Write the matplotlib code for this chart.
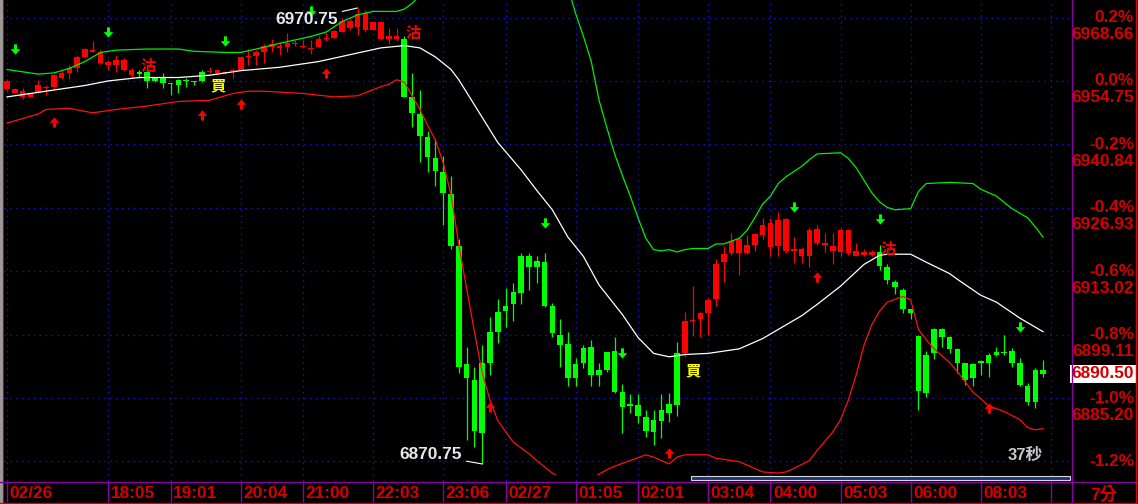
import numpy as np
import matplotlib
matplotlib.use("Agg")
import matplotlib.pyplot as plt
from matplotlib.path import Path
from matplotlib.patches import Rectangle
import matplotlib.transforms as mtransforms

# 7分K OHLC
opens = [6953.00, 6952.00, 6951.25, 6951.25, 6952.00, 6953.25, 6953.50, 6955.50, 6956.50, 6957.50,
         6960.00, 6961.00, 6958.75, 6958.25, 6958.25, 6957.25, 6956.00, 6956.75, 6956.75, 6955.50,
         6955.50, 6954.25, 6955.00, 6955.00, 6954.75, 6956.75, 6956.75, 6956.50, 6956.50, 6957.00,
         6957.25, 6960.00, 6960.25, 6961.00, 6962.25, 6962.00, 6962.25, 6962.75, 6962.25, 6961.75,
         6962.25, 6964.00, 6964.25, 6965.50, 6966.25, 6966.50, 6966.00, 6966.00, 6964.00, 6964.00,
         6964.00, 6964.00, 6951.25, 6947.50, 6942.50, 6937.75, 6934.75, 6930.00, 6918.50, 6892.75,
         6889.25, 6893.00, 6899.75, 6904.00, 6905.50, 6908.50, 6916.25, 6916.25, 6915.25, 6915.00,
         6905.50, 6899.00, 6897.00, 6892.75, 6896.25, 6896.50, 6891.25, 6895.25, 6895.50, 6886.50,
         6884.00, 6883.75, 6881.00, 6880.50, 6882.50, 6884.00, 6895.00, 6895.00, 6902.00, 6902.50,
         6903.75, 6907.00, 6915.00, 6917.00, 6917.00, 6917.00, 6918.75, 6921.00, 6918.25, 6918.50,
         6917.50, 6917.50, 6916.25, 6916.25, 6919.25, 6918.75, 6917.50, 6917.25, 6917.00, 6916.25,
         6916.50, 6916.50, 6917.25, 6914.00, 6910.75, 6909.00, 6904.75, 6898.75, 6894.75, 6900.25,
         6900.25, 6898.50, 6896.00, 6893.00, 6892.75, 6893.00, 6894.75, 6895.25, 6895.00, 6895.50,
         6893.00, 6887.75, 6891.25, 6891.25]
highs = [6955.25, 6953.25, 6953.25, 6952.00, 6955.00, 6953.75, 6956.25, 6957.25, 6958.25, 6960.50,
         6962.00, 6963.50, 6961.50, 6959.25, 6960.50, 6959.75, 6957.50, 6957.25, 6957.25, 6955.50,
         6956.50, 6954.25, 6955.25, 6955.50, 6954.75, 6957.25, 6957.75, 6957.25, 6957.00, 6957.50,
         6960.25, 6961.75, 6961.50, 6962.75, 6964.00, 6963.25, 6965.25, 6963.75, 6963.75, 6963.75,
         6964.50, 6965.50, 6966.00, 6968.50, 6968.50, 6970.75, 6970.25, 6967.75, 6968.00, 6966.25,
         6966.25, 6964.50, 6956.50, 6952.75, 6943.75, 6942.00, 6938.25, 6934.00, 6920.00, 6896.50,
         6892.00, 6896.75, 6903.00, 6907.00, 6909.25, 6910.50, 6917.00, 6917.00, 6916.25, 6917.00,
         6906.00, 6902.50, 6899.75, 6894.00, 6896.75, 6898.00, 6893.00, 6895.25, 6898.50, 6888.25,
         6886.00, 6886.00, 6882.50, 6882.50, 6886.00, 6886.25, 6897.50, 6904.00, 6909.75, 6904.00,
         6907.25, 6915.75, 6918.50, 6921.50, 6920.25, 6921.00, 6921.50, 6924.75, 6924.75, 6926.00,
         6924.75, 6920.50, 6918.25, 6922.50, 6923.25, 6921.50, 6921.50, 6922.50, 6922.25, 6919.25,
         6918.00, 6917.75, 6918.75, 6914.50, 6911.00, 6909.25, 6904.75, 6899.00, 6895.50, 6900.50,
         6900.50, 6898.75, 6896.25, 6893.00, 6893.00, 6893.50, 6895.00, 6896.50, 6899.00, 6896.25,
         6894.00, 6888.50, 6891.75, 6893.50]
lows = [6952.50, 6952.00, 6950.75, 6951.25, 6952.00, 6951.75, 6952.75, 6955.25, 6955.25, 6956.75,
        6959.75, 6961.00, 6958.50, 6957.25, 6956.75, 6957.00, 6955.50, 6955.50, 6953.25, 6954.50,
        6953.25, 6951.75, 6952.00, 6953.50, 6953.75, 6954.50, 6956.50, 6956.00, 6956.25, 6955.50,
        6957.25, 6958.25, 6958.25, 6958.75, 6961.00, 6960.50, 6961.00, 6962.50, 6962.00, 6960.75,
        6962.25, 6963.50, 6964.25, 6965.50, 6966.00, 6964.75, 6965.50, 6966.00, 6963.75, 6962.75,
        6963.50, 6951.25, 6944.75, 6937.00, 6934.75, 6931.75, 6923.25, 6918.00, 6890.75, 6876.00,
        6874.50, 6870.75, 6890.25, 6897.25, 6900.75, 6902.00, 6905.75, 6909.00, 6910.50, 6905.25,
        6898.50, 6892.00, 6887.75, 6887.75, 6891.75, 6887.75, 6887.75, 6891.00, 6886.25, 6877.50,
        6882.00, 6879.75, 6876.75, 6875.00, 6876.50, 6880.00, 6881.25, 6894.25, 6898.75, 6898.50,
        6899.00, 6905.50, 6910.75, 6916.50, 6912.25, 6916.75, 6917.50, 6920.00, 6916.25, 6916.25,
        6917.00, 6914.75, 6914.75, 6914.00, 6918.75, 6917.25, 6914.50, 6916.25, 6916.50, 6916.25,
        6916.25, 6916.25, 6913.25, 6910.25, 6908.00, 6903.75, 6902.50, 6882.50, 6885.50, 6893.75,
        6896.50, 6895.00, 6890.75, 6888.00, 6887.75, 6890.25, 6889.75, 6894.50, 6894.75, 6892.00,
        6887.75, 6883.75, 6883.00, 6889.75]
closes = [6954.75, 6953.00, 6952.50, 6952.00, 6953.75, 6953.50, 6956.00, 6956.50, 6957.50, 6960.00,
          6961.75, 6961.50, 6961.00, 6959.00, 6959.25, 6959.25, 6957.25, 6956.25, 6954.75, 6954.75,
          6954.25, 6954.00, 6953.75, 6954.75, 6954.50, 6954.75, 6956.75, 6957.25, 6956.75, 6957.25,
          6960.00, 6960.25, 6961.00, 6962.50, 6962.75, 6962.50, 6963.00, 6962.75, 6962.50, 6962.00,
          6964.00, 6964.25, 6965.75, 6968.00, 6968.00, 6969.50, 6969.75, 6967.75, 6967.75, 6964.50,
          6964.50, 6951.25, 6947.75, 6942.75, 6938.00, 6935.00, 6930.25, 6918.50, 6892.00, 6889.50,
          6878.00, 6877.50, 6893.00, 6899.75, 6904.25, 6905.75, 6908.25, 6914.00, 6914.00, 6905.50,
          6899.50, 6896.75, 6889.50, 6889.50, 6893.00, 6890.25, 6890.25, 6891.25, 6886.50, 6883.25,
          6883.50, 6881.25, 6878.00, 6877.75, 6880.25, 6882.00, 6883.75, 6902.00, 6902.25, 6903.75,
          6906.75, 6914.50, 6916.75, 6919.75, 6920.00, 6918.75, 6921.25, 6923.25, 6923.50, 6924.25,
          6924.50, 6918.00, 6918.00, 6922.00, 6922.25, 6919.25, 6918.50, 6922.00, 6922.00, 6917.50,
          6917.25, 6917.25, 6914.25, 6911.00, 6909.50, 6904.75, 6903.75, 6886.75, 6886.25, 6895.00,
          6898.50, 6896.00, 6893.00, 6889.25, 6889.50, 6893.00, 6893.00, 6894.75, 6895.00, 6893.00,
          6888.00, 6884.25, 6884.25, 6890.50]

# 通道線 (bar index, price)
upper_bars = [0, 2, 4, 6, 8, 10, 12, 14, 18, 22, 24, 28, 30, 32, 35, 39, 41, 43, 45, 47, 50, 51, 52, 53,
              54, 57, 62, 67, 70, 72, 73, 74, 75, 76, 77, 78, 79, 80, 81, 82, 83, 84, 85, 86, 87, 88,
              90, 91, 92, 94, 95, 96, 97, 98, 99, 100, 102, 103, 104, 107, 108, 109, 110, 111, 112,
              113, 114, 116, 117, 118, 121, 124, 125, 127, 129, 131, 132, 133]
upper_vals = [6957.25, 6956.75, 6956.25, 6956.50, 6957.50, 6959.00, 6961.00, 6961.50, 6961.75, 6961.75,
              6961.25, 6961.00, 6961.00, 6961.75, 6963.00, 6964.50, 6965.50, 6967.75, 6969.25, 6970.00,
              6970.00, 6970.50, 6971.75, 6973.50, 6978.00, 6985.75, 6993.25, 6991.25, 6982.25, 6975.25,
              6969.50, 6964.50, 6959.00, 6950.50, 6944.50, 6938.75, 6934.00, 6929.50, 6924.75, 6920.25,
              6917.75, 6917.50, 6917.75, 6917.25, 6917.75, 6918.00, 6918.00, 6919.00, 6919.00, 6920.25,
              6922.00, 6924.75, 6927.75, 6929.50, 6932.25, 6933.75, 6936.00, 6937.50, 6938.75, 6939.00,
              6937.75, 6935.75, 6933.00, 6930.25, 6928.25, 6927.00, 6926.50, 6926.75, 6930.50, 6932.25,
              6932.50, 6932.25, 6931.00, 6929.50, 6926.75, 6924.75, 6922.75, 6920.50]

mid_bars = [0, 5, 10, 13, 17, 22, 26, 30, 35, 40, 44, 48, 51, 53, 55, 57, 58, 61, 63, 66, 68, 70, 72,
            74, 76, 79, 81, 83, 85, 87, 90, 94, 97, 99, 102, 104, 107, 110, 112, 113, 116, 118, 121,
            122, 125, 127, 130, 133]
mid_vals = [6951.25, 6952.50, 6953.75, 6954.75, 6955.50, 6955.50, 6956.00, 6957.00, 6957.75, 6959.00,
            6960.50, 6962.00, 6962.50, 6962.00, 6960.00, 6957.25, 6955.00, 6946.75, 6941.25, 6935.25,
            6930.75, 6926.50, 6920.50, 6916.25, 6910.00, 6903.50, 6898.50, 6895.00, 6894.25, 6894.75,
            6895.00, 6896.00, 6898.25, 6900.25, 6903.25, 6905.75, 6909.75, 6914.50, 6916.50, 6916.75,
            6916.75, 6915.00, 6912.50, 6911.25, 6907.75, 6906.25, 6902.75, 6899.75]

lower_bars = [0, 2, 4, 5, 8, 11, 14, 18, 22, 26, 29, 31, 33, 38, 42, 45, 48, 49, 50, 51, 52, 53, 54,
              55, 56, 57, 58, 59, 60, 61, 62, 63, 65, 67, 68, 70, 71, 73, 75, 77, 78, 80, 82, 83, 85,
              86, 87, 90, 91, 92, 94, 96, 97, 99, 100, 101, 103, 104, 106, 107, 108, 109, 110, 111,
              112, 113, 115, 116, 117, 118, 119, 120, 121, 122, 123, 124, 125, 126, 128, 130, 131,
              132, 133]
lower_vals = [6945.50, 6946.50, 6947.50, 6948.50, 6948.75, 6947.75, 6948.50, 6949.25, 6950.25, 6950.50,
              6952.00, 6952.50, 6952.50, 6952.00, 6951.25, 6951.50, 6953.50, 6954.00, 6955.00, 6954.50,
              6951.50, 6948.50, 6945.00, 6941.75, 6936.75, 6929.75, 6918.75, 6909.25, 6899.75, 6890.75,
              6884.75, 6880.25, 6875.50, 6873.00, 6871.50, 6868.75, 6867.75, 6866.50, 6867.50, 6869.50,
              6870.25, 6871.50, 6872.75, 6872.25, 6870.75, 6872.25, 6872.75, 6872.75, 6872.00, 6871.75,
              6871.25, 6869.75, 6869.00, 6868.75, 6869.00, 6869.75, 6871.50, 6873.75, 6877.75, 6880.50,
              6884.75, 6890.25, 6896.75, 6901.25, 6904.25, 6906.25, 6907.50, 6906.75, 6900.25, 6898.00,
              6896.00, 6894.50, 6893.00, 6891.00, 6888.75, 6886.50, 6885.00, 6883.50, 6882.25, 6880.50,
              6878.75, 6878.25, 6878.50]

# 訊號
sell_arrow_bars = [1, 13, 28, 39, 69, 79, 101, 112, 130]
sell_arrow_vals = [6961.75, 6965.50, 6963.50, 6970.00, 6923.50, 6895.00, 6927.00, 6924.50, 6900.75]
buy_arrow_bars = [6, 25, 30, 41, 62, 85, 104, 126]
buy_arrow_vals = [6945.75, 6947.25, 6949.75, 6956.50, 6883.25, 6873.25, 6911.75, 6883.00]
sell_bars = [17, 51, 112]
sell_text_vals = [6958.00, 6965.25, 6918.00]
buy_bars = [26, 87]
buy_text_vals = [6953.75, 6891.25]

prev_close = 6954.75
pct_levels = [0.2, 0.0, -0.2, -0.4, -0.6, -0.8, -1.0, -1.2]
price_labels = ["6968.66", "6954.75", "6940.84", "6926.93", "6913.02", "6899.11", "6885.20", ""]

time_ticks = [0, 13, 21, 30, 38, 47, 56, 64, 73, 81, 90, 98, 107, 116, 125, 134]
time_labels = ["02/26", "18:05", "19:01", "20:04", "21:00", "22:03", "23:06", "02/27",
               "01:05", "02:01", "03:04", "04:00", "05:03", "06:00", "08:03", ""]
period_label = "7分"
countdown = "37秒"

# ---- 畫圖 ----
W, H = 1138, 504
RED_TXT = "#d40000"
UP = "#ff0000"
DN = "#00ff00"
PURPLE = "#8a00a0"
GRID = "#1414d2"
NUM_FONT = ["Liberation Sans", "DejaVu Sans"]
CJK_FONT = ["Liberation Sans", "Noto Sans CJK TC", "DejaVu Sans"]

fig = plt.figure(figsize=(W / 100, H / 100), dpi=100, facecolor="black")
plot_bottom = 475
ax = fig.add_axes([4 / W, 1 - plot_bottom / H, (1072 - 4) / W, plot_bottom / H])
ax.set_xlim(-0.385, 136.71)
ax.set_ylim(6868.33, 6972.5)
ax.set_axis_off()

n = len(closes)
x = np.arange(n)
o = np.array(opens); h = np.array(highs); l = np.array(lows); c = np.array(closes)

# 多空狀態決定K棒顏色
sig = {b: "sell" for b in sell_bars}
sig.update({b: "buy" for b in buy_bars})
cur = "buy"
colors = []
for i in range(n):
    cur = sig.get(i, cur)
    colors.append(UP if cur == "buy" else DN)

# 格線
for p in pct_levels:
    ax.axhline(prev_close * (1 + p / 100), color=GRID, lw=0.9, ls=(0, (1.2, 3.5)), zorder=0)
ax.vlines(time_ticks, -6 / plot_bottom, 1, transform=ax.get_xaxis_transform(),
          color=GRID, lw=0.9, ls=(0, (1.2, 3.5)), clip_on=False, zorder=0)

# K棒
ax.vlines(x, l, h, colors=colors, lw=0.9, zorder=2)
body_lo = np.minimum(o, c)
body_h = np.maximum(np.abs(c - o), 0.25)
ax.bar(x, body_h, bottom=body_lo, width=0.72, color=colors, linewidth=0, zorder=3)

# 通道
ax.plot(upper_bars, upper_vals, color="#00ee00", lw=0.9, zorder=4)
ax.plot(mid_bars, mid_vals, color="white", lw=0.9, zorder=4)
ax.plot(lower_bars, lower_vals, color="#ff1010", lw=0.9, zorder=4)

# 箭頭
arrow_v = [(-1.3, 4.5), (1.3, 4.5), (1.3, 0.3), (4.2, 0.3), (0, -4.5), (-4.2, 0.3), (-1.3, 0.3), (-1.3, 4.5)]
down_arrow = Path(arrow_v, closed=True)
up_arrow = Path([(a, -b) for a, b in arrow_v], closed=True)
ax.plot(sell_arrow_bars, sell_arrow_vals, ls="", marker=down_arrow, ms=7.4,
        color=DN, mec="none", zorder=5)
ax.plot(buy_arrow_bars, buy_arrow_vals, ls="", marker=up_arrow, ms=7.4,
        color=UP, mec="none", zorder=5)

for b, v in zip(sell_bars, sell_text_vals):
    ax.annotate("沽", (b, v), xytext=(6.2, 0), textcoords="offset points", ha="center",
                va="center", color="#ff0000", fontsize=11, fontweight="bold",
                family=["Noto Sans CJK TC"], zorder=6)
for b, v in zip(buy_bars, buy_text_vals):
    ax.annotate("買", (b, v), xytext=(6.2, 0), textcoords="offset points", ha="center",
                va="center", color="#ffff00", fontsize=11, fontweight="bold",
                family=["Noto Sans CJK TC"], zorder=6)

# 最高 / 最低
ih = int(np.argmax(h)); il = int(np.argmin(l))
line_props = dict(arrowstyle="-", color="white", lw=0.8, shrinkA=1, shrinkB=0)
ax.annotate(f"{h[ih]:.2f}", (ih, h[ih]), xytext=(-14, -8.3), textcoords="offset points",
            ha="right", va="center", color="#e8e8e8", fontsize=12.4, fontweight="bold",
            family=NUM_FONT, arrowprops=line_props, zorder=6)
ax.annotate(f"{l[il]:.2f}", (il, l[il]), xytext=(-14.4, 6.5), textcoords="offset points",
            ha="right", va="center", color="#e8e8e8", fontsize=12.4, fontweight="bold",
            family=NUM_FONT, arrowprops=line_props, zorder=6)

# 右側刻度
ytr = ax.get_yaxis_transform()
ytr_price = mtransforms.offset_copy(ytr, fig=fig, y=-17, units="dots")
lab_x = (1134 - 4) / (1072 - 4)
for p, s in zip(pct_levels, price_labels):
    lv = prev_close * (1 + p / 100)
    ax.text(lab_x, lv, f"{p:.1f}%", transform=ytr, ha="right", va="center",
            color=RED_TXT, fontsize=12.4, fontweight="bold", family=NUM_FONT, clip_on=False)
    if s:
        ax.text(lab_x, lv, s, transform=ytr_price, ha="right", va="center",
                color=RED_TXT, fontsize=12.4, fontweight="bold", family=NUM_FONT, clip_on=False)
ax.text(lab_x, c[-1], f"{c[-1]:.2f}", transform=ytr, ha="right", va="center",
        color=RED_TXT, fontsize=12.4, fontweight="bold", family=NUM_FONT, clip_on=False,
        bbox=dict(boxstyle="square,pad=0.1", fc="white", ec="none"), zorder=7)

# 時間軸
xtr = ax.get_xaxis_transform()
xtr_lab = mtransforms.offset_copy(xtr, fig=fig, x=2.5, units="dots")
for t, s in zip(time_ticks, time_labels):
    ax.text(t, (plot_bottom - 494) / plot_bottom, s, transform=xtr_lab, ha="left", va="center",
            color=RED_TXT, fontsize=12.4, fontweight="bold", family=NUM_FONT, clip_on=False)
ax.vlines(time_ticks, -6 / plot_bottom, -27 / plot_bottom, transform=xtr, color=PURPLE,
          lw=1, clip_on=False)

# 外框 (像素座標)
fa = fig.add_axes([0, 0, 1, 1])
fa.set_xlim(0, W)
fa.set_ylim(H, 0)
fa.set_axis_off()
fa.patch.set_alpha(0)
fa.add_patch(Rectangle((0, 0), 3, H, fc="#9a9a9a", ec="none"))
fa.plot([3.5, 3.5], [0, H], color="#c00000", lw=0.8)
fa.plot([0, W], [481.5, 481.5], color=PURPLE, lw=1)
fa.plot([0, W], [502.5, 502.5], color="#e00000", lw=1)
fa.plot([1072.5, 1072.5], [0, H], color=PURPLE, lw=1)
fa.plot([1136.5, 1136.5], [0, H], color="#e00000", lw=1)
fa.add_patch(Rectangle((691, 475.5), 379, 4.5, fc="#15386e", ec="#d8d8d8", lw=0.8))
fa.text(1104, 494, period_label, ha="center", va="center", color=RED_TXT, fontsize=12.4,
        fontweight="bold", family=CJK_FONT)
fa.text(1043, 455, countdown, ha="right", va="center", color="#c8c8c8", fontsize=12,
        fontweight="bold", family=CJK_FONT)

fig.savefig("out.png", dpi=100, facecolor="black")
